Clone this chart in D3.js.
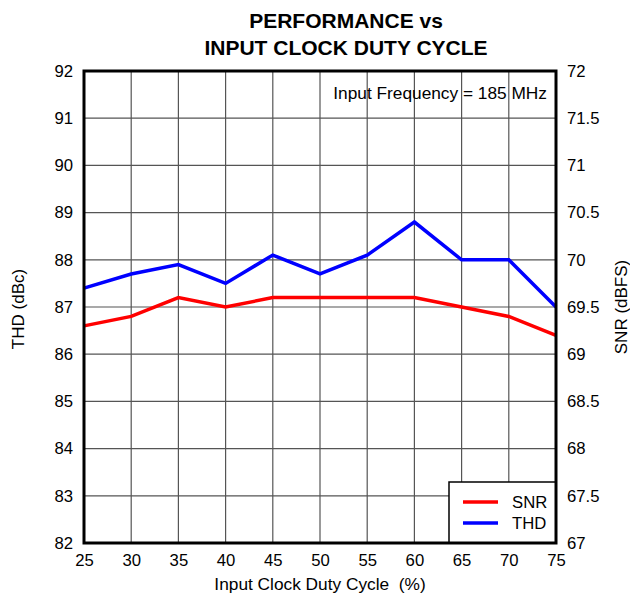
<!DOCTYPE html>
<html><head><meta charset="utf-8">
<script src="https://cdn.jsdelivr.net/npm/d3@7"></script>
<style>body{margin:0;background:#fff}svg{display:block}text{font-family:"Liberation Sans",Arial,sans-serif;fill:#000}</style>
</head><body>
<svg id="c" width="630" height="597"></svg>
<script>
const dutyCycle = [25,30,35,40,45,50,55,60,65,70,75];
const thd = [87.4,87.7,87.9,87.5,88.1,87.7,88.1,88.8,88.0,88.0,87.0];
const snr = [69.3,69.4,69.6,69.5,69.6,69.6,69.6,69.6,69.5,69.4,69.2];
const xTicks = [25,30,35,40,45,50,55,60,65,70,75];
const yLeftTicks = [82,83,84,85,86,87,88,89,90,91,92];
const yRightTicks = [67,67.5,68,68.5,69,69.5,70,70.5,71,71.5,72];
const titleLines = ["PERFORMANCE vs","INPUT CLOCK DUTY CYCLE"];

const svg = d3.select("#c");
const L=84, R=556, T=71, B=543;
const x = d3.scaleLinear().domain([25,75]).range([L,R]);
const yL = d3.scaleLinear().domain([82,92]).range([B,T]);
const yR = d3.scaleLinear().domain([67,72]).range([B,T]);
const FF = "Liberation Sans, Arial, sans-serif";

// grid
svg.append("g").selectAll("line").data(xTicks.slice(1,-1)).join("line")
  .attr("x1",d=>x(d)).attr("x2",d=>x(d)).attr("y1",T).attr("y2",B)
  .attr("stroke","#555").attr("stroke-width",1.2);
svg.append("g").selectAll("line").data(yLeftTicks.slice(1,-1)).join("line")
  .attr("y1",d=>yL(d)).attr("y2",d=>yL(d)).attr("x1",L).attr("x2",R)
  .attr("stroke","#555").attr("stroke-width",1.2);

// axes (labels only)
const fs = "16.7px";
function styleAxis(g){
  g.select(".domain").remove();
  g.attr("font-size",fs).attr("font-family",FF);
  g.selectAll("text").attr("font-size",fs).attr("font-family",FF).attr("fill","#000");
}
svg.append("g").attr("transform",`translate(0,${B})`)
  .call(d3.axisBottom(x).tickValues(xTicks).tickSize(0).tickPadding(11).tickFormat(d3.format("d"))).call(styleAxis);
svg.append("g").attr("transform",`translate(${L},0)`)
  .call(d3.axisLeft(yL).tickValues(yLeftTicks).tickSize(0).tickPadding(11).tickFormat(d3.format("d"))).call(styleAxis);
svg.append("g").attr("transform",`translate(${R},0)`)
  .call(d3.axisRight(yR).tickValues(yRightTicks).tickSize(0).tickPadding(11).tickFormat(d=>String(d))).call(styleAxis);

// lines
const lineL = d3.line().x((d,i)=>x(dutyCycle[i])).y(d=>yL(d));
const lineR = d3.line().x((d,i)=>x(dutyCycle[i])).y(d=>yR(d));
svg.append("path").attr("d",lineR(snr)).attr("fill","none").attr("stroke","#ff0000").attr("stroke-width",3.5);
svg.append("path").attr("d",lineL(thd)).attr("fill","none").attr("stroke","#0000ff").attr("stroke-width",3.5);

// legend
const lg = svg.append("g");
lg.append("rect").attr("x",449).attr("y",482).attr("width",R-449).attr("height",B-482)
  .attr("fill","#fff").attr("stroke","#000").attr("stroke-width",1.5);
const legItems = [{name:"SNR",color:"#ff0000"},{name:"THD",color:"#0000ff"}];
legItems.forEach((it,i)=>{
  const yy = 502 + i*21;
  lg.append("line").attr("x1",463).attr("x2",498).attr("y1",yy).attr("y2",yy).attr("stroke",it.color).attr("stroke-width",3.5);
  lg.append("text").attr("x",512).attr("y",yy+6).attr("font-size",fs).text(it.name);
});

// frame
svg.append("rect").attr("x",L).attr("y",T).attr("width",R-L).attr("height",B-T)
  .attr("fill","none").attr("stroke","#000").attr("stroke-width",3);

// annotation
svg.append("text").attr("x",547).attr("y",99).attr("text-anchor","end").attr("font-size","17.3px").text("Input Frequency = 185 MHz");

// title
titleLines.forEach((t,i)=>{
  svg.append("text").attr("x",346).attr("y",28+i*27).attr("text-anchor","middle")
    .attr("font-size","21px").attr("font-weight","bold").text(t);
});

// axis titles
svg.append("text").attr("x",320).attr("y",590).attr("text-anchor","middle").attr("font-size","17.3px").attr("xml:space","preserve").text("Input Clock Duty Cycle  (%)");
svg.append("text").attr("transform","translate(24,309) rotate(-90)").attr("text-anchor","middle").attr("font-size","17px").text("THD (dBc)");
svg.append("text").attr("transform","translate(627,307) rotate(-90)").attr("text-anchor","middle").attr("font-size","17px").text("SNR (dBFS)");
</script>
</body></html>
